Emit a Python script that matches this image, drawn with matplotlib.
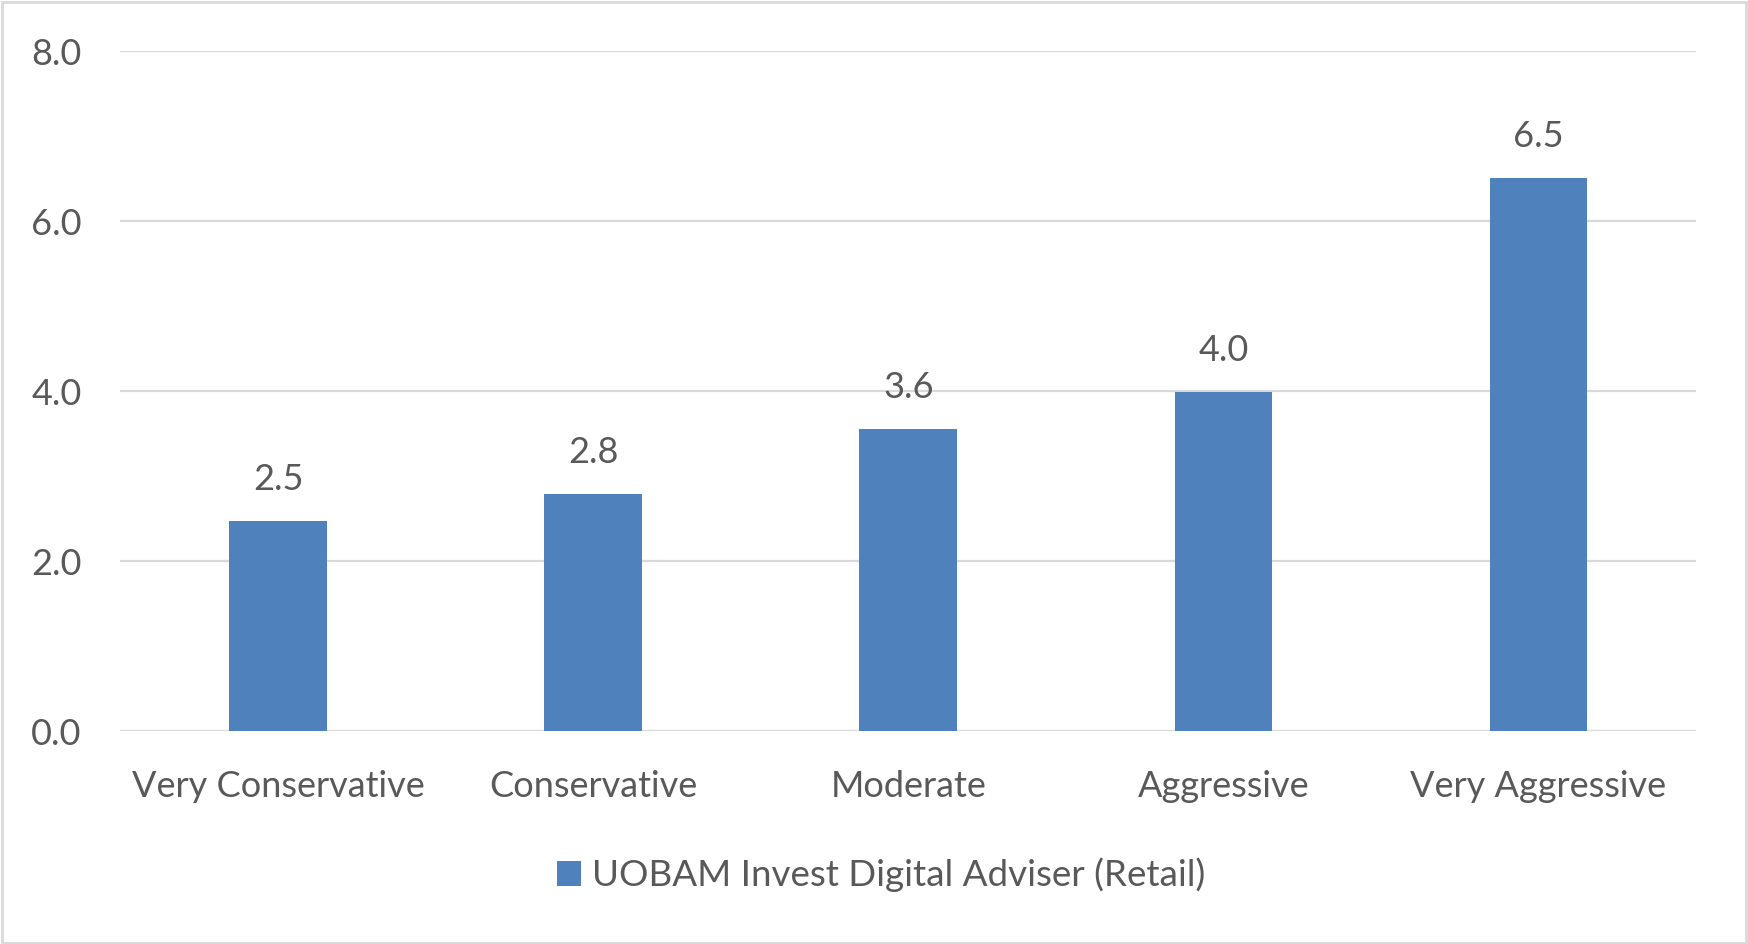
import matplotlib.pyplot as plt
from matplotlib.patches import Rectangle

categories = ["Very Conservative", "Conservative", "Moderate", "Aggressive", "Very Aggressive"]
values = [2.47, 2.79, 3.56, 3.99, 6.51]
yticks = [0, 2, 4, 6, 8]
series_name = "UOBAM Invest Digital Adviser (Retail)"

bar_color = "#4f81bd"
text_color = "#595959"
grid_color = "#d9d9d9"
fs = 26

plt.rcParams['font.family'] = ['Lato', 'DejaVu Sans']

fig = plt.figure(figsize=(17.48, 9.44), dpi=100)
ax = fig.add_axes([0.0689, 0.2252, 0.9014, 0.7205])

x = range(len(categories))
bars = ax.bar(x, values, width=0.31, color=bar_color, label=series_name, zorder=3)
ax.bar_label(bars, fmt='%.1f', padding=18, fontsize=fs, color=text_color)

ax.set_xlim(-0.5, len(categories) - 0.5)
ax.set_ylim(0, 8)
ax.set_yticks(yticks)
ax.set_yticklabels([f"{v:.1f}" for v in yticks])
ax.set_xticks(list(x))
ax.set_xticklabels(categories)
ax.tick_params(axis='both', length=0, labelsize=fs, labelcolor=text_color)
ax.tick_params(axis='y', pad=28)
ax.tick_params(axis='x', pad=28)

ax.yaxis.grid(True, color=grid_color, linewidth=1.6, zorder=0)
for s in ax.spines.values():
    s.set_visible(False)

ax.legend(loc='center', bbox_to_anchor=(0.504, 0.073), bbox_transform=fig.transFigure,
          frameon=False, fontsize=26.5, labelcolor=text_color, handlelength=0.65,
          handleheight=0.65, handletextpad=0.3)

fig.patches.append(Rectangle((0.001, 0.001), 0.998, 0.997, transform=fig.transFigure,
                             fill=False, edgecolor=grid_color, linewidth=2))

fig.savefig("out.png", dpi=100)
